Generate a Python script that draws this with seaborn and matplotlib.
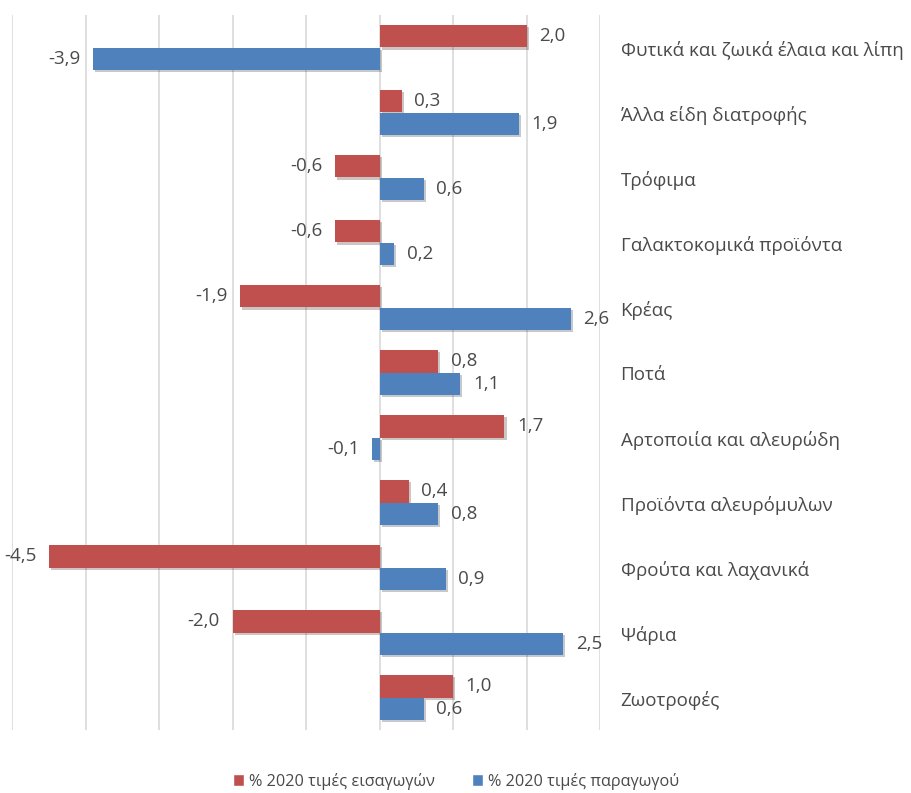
import matplotlib
matplotlib.use("Agg")
import matplotlib.pyplot as plt
import matplotlib.patheffects as pe
from matplotlib.patches import Patch
import seaborn as sns
import pandas as pd

categories = [
    "Φυτικά και ζωικά έλαια και λίπη",
    "Άλλα είδη διατροφής",
    "Τρόφιμα",
    "Γαλακτοκομικά προϊόντα",
    "Κρέας",
    "Ποτά",
    "Αρτοποιία και αλευρώδη",
    "Προϊόντα αλευρόμυλων",
    "Φρούτα και λαχανικά",
    "Ψάρια",
    "Ζωοτροφές",
]
imports_pct = [2.0, 0.3, -0.6, -0.6, -1.9, 0.8, 1.7, 0.4, -4.5, -2.0, 1.0]
producer_pct = [-3.9, 1.9, 0.6, 0.2, 2.6, 1.1, -0.1, 0.8, 0.9, 2.5, 0.6]
series = ["% 2020 τιμές εισαγωγών", "% 2020 τιμές παραγωγού"]
colors = ["#C0504D", "#4F81BD"]

df = pd.DataFrame({
    "cat": categories * 2,
    "val": imports_pct + producer_pct,
    "series": [series[0]] * len(categories) + [series[1]] * len(categories),
})

sns.set_theme(style="white")
plt.rcParams["font.family"] = ["Open Sans", "DejaVu Sans"]
txt = "#4A4A4A"

fig = plt.figure(figsize=(9.12, 7.93), dpi=100)
ax = fig.add_axes([12 / 912, 1 - 730 / 793, (600 - 12) / 912, (730 - 15) / 793])

sns.barplot(data=df, y="cat", x="val", hue="series", order=categories,
            hue_order=series, palette=colors, orient="h", width=0.68,
            dodge=True, legend=False, ax=ax, errorbar=None,
            linewidth=0, saturation=1)

for p in ax.patches:
    p.set_path_effects([pe.SimplePatchShadow(offset=(1.5, -1.5), alpha=0.25), pe.Normal()])

ax.set_xlim(-5, 3)
ax.set_ylim(10.5, -0.5)
ax.set_xticks(range(-5, 4))
ax.xaxis.grid(True, color="#D9D9D9", linewidth=1.2)
ax.set_axisbelow(True)
ax.set_xticklabels([])
ax.set_yticklabels([])
ax.tick_params(left=False, bottom=False)
ax.set_xlabel("")
ax.set_ylabel("")
for s in ax.spines.values():
    s.set_visible(False)

for cont in ax.containers:
    for bar in cont:
        v = bar.get_width()
        y = bar.get_y() + bar.get_height() / 2
        label = f"{v:.1f}".replace(".", ",")
        if v >= 0:
            ax.annotate(label, (v, y), xytext=(9, 0), textcoords="offset points",
                        ha="left", va="center", fontsize=13.5, color=txt)
        else:
            ax.annotate(label, (v, y), xytext=(-9, 0), textcoords="offset points",
                        ha="right", va="center", fontsize=13.5, color=txt)

for i, c in enumerate(categories):
    ax.text(3.28, i + 0.04, c, ha="left", va="center", fontsize=13.5, color=txt,
            transform=ax.transData, clip_on=False)

handles = [Patch(facecolor=colors[0], label=series[0]),
           Patch(facecolor=colors[1], label=series[1])]
fig.legend(handles=handles, loc="center", bbox_to_anchor=(0.5, 1 - 781 / 793),
           ncol=2, frameon=False, fontsize=11.7, handlelength=0.7, handleheight=0.7,
           handletextpad=0.3, columnspacing=2.3, labelcolor=txt)

fig.savefig("out.png", dpi=100)
